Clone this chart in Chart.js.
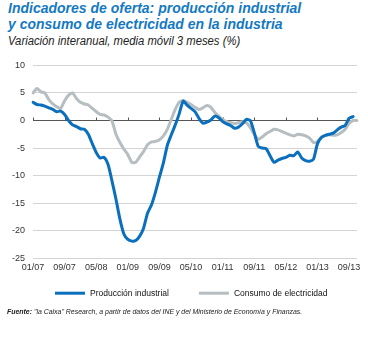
<!DOCTYPE html>
<html lang="es">
<head>
<meta charset="UTF-8">
<title>Indicadores de oferta</title>
<script src="https://cdn.jsdelivr.net/npm/chart.js"></script>
<style>
  html, body { margin: 0; padding: 0; background: #fff; }
  body { width: 368px; height: 338px; position: relative; overflow: hidden; font-family: "Liberation Sans", Arial, sans-serif; }
  .titulo { position: absolute; left: 8px; color: #1479c2; font-weight: bold; font-style: italic; font-size: 14px; line-height: 16px; white-space: nowrap; }
  .t1 { top: 0; }
  .t2 { top: 16px; }
  .subtitulo { position: absolute; left: 8px; top: 34px; color: #222; font-style: italic; font-size: 12px; white-space: nowrap; transform-origin: left top; transform: scaleX(0.94); }
  .fuente { position: absolute; left: 7px; top: 307px; color: #222; font-style: italic; font-size: 8px; white-space: nowrap; transform-origin: left top; transform: scaleX(0.866); }
  .grafico { position: absolute; left: 0; top: 52px; width: 368px; height: 265px; }
</style>
</head>
<body>
<div class="titulo t1">Indicadores de oferta: producción industrial</div>
<div class="titulo t2">y consumo de electricidad en la industria</div>
<div class="subtitulo">Variación interanual, media móvil 3 meses (%)</div>
<div class="grafico"><canvas id="chart"></canvas></div>
<div class="fuente"><b>Fuente:</b> "la Caixa" Research, a partir de datos del INE y del Ministerio de Economía y Finanzas.</div>

<script>
// meses 01/07 .. 11/13
const meses = [];
for (let a = 7; a <= 13; a++) {
  for (let m = 1; m <= 12; m++) {
    if (a === 13 && m > 11) break;
    meses.push(String(m).padStart(2, '0') + '/' + String(a).padStart(2, '0'));
  }
}

// Producción industrial (último dato 10/13)
const produccion = [
  3.3, 2.9, 2.8, 2.6, 2.3, 2.0, 1.6, 1.7, 1.1, 0.0, -0.8, -1.1,
  -1.5, -1.6, -2.5, -4.2, -5.8, -6.8, -6.7, -8.0, -11.0, -14.3, -17.9, -20.6,
  -21.6, -21.9, -21.8, -21.0, -19.5, -16.8, -15.3, -13.0, -10.3, -7.7, -4.5, -2.6,
  -0.8, 1.2, 3.5, 2.8, 2.2, 1.6, 0.4, -0.5, -0.3, 0.1, 0.8, 0.5,
  -0.2, -0.6, -0.9, -1.4, -1.2, -0.6, 0.2, 0.0, -2.2, -4.7, -5.0, -5.1,
  -6.4, -7.6, -7.2, -6.9, -6.7, -6.3, -6.4, -5.7, -6.8, -7.3, -7.4, -7.0,
  -4.2, -3.1, -2.7, -2.5, -2.3, -1.7, -1.2, -0.9, 0.4, 0.7, null
];

// Consumo de electricidad (último dato 11/13)
const electricidad = [
  5.0, 5.8, 5.2, 5.0, 3.8, 3.0, 2.5, 2.2, 3.6, 4.6, 5.0, 4.0,
  3.3, 3.0, 2.8, 2.2, 1.6, 1.1, 1.0, 0.6, -0.1, -2.5, -4.0, -5.2,
  -6.2, -7.6, -7.6, -6.6, -5.6, -4.4, -3.9, -3.8, -3.5, -2.8, -1.6, 0.2,
  2.0, 3.3, 3.65, 3.3, 2.9, 2.4, 2.0, 2.3, 2.7, 2.4, 1.5, 0.8,
  0.2, -0.2, -0.4, -0.55, -0.4, -0.25, -0.4, -1.3, -2.5, -3.4, -3.0, -2.4,
  -2.0, -1.6, -1.7, -2.0, -2.3, -2.6, -2.8, -2.5, -2.6, -2.8, -3.2, -4.0,
  -3.8, -3.0, -2.7, -2.6, -2.7, -2.6, -2.2, -1.6, -0.5, 0.0, 0.0
];

const yTicks = [10, 5, 0, -5, -10, -15, -20, -25];
const cadaN = 8; // etiqueta cada 8 meses

const fuente = "'Liberation Sans', Arial, sans-serif";

// marcas cortas sobre la línea del cero
const marcasCero = {
  id: 'marcasCero',
  beforeDatasetsDraw(chart) {
    const { ctx, scales: { x, y } } = chart;
    const y0 = Math.round(y.getPixelForValue(0)) + 0.5;
    ctx.save();
    ctx.strokeStyle = '#555';
    ctx.lineWidth = 1;
    ctx.beginPath();
    meses.forEach((m, i) => {
      if (i % cadaN !== 0) return;
      const px = Math.round(x.getPixelForValue(i)) + 0.5;
      ctx.moveTo(px, y0);
      ctx.lineTo(px, y0 - 3);
    });
    ctx.stroke();
    ctx.restore();
  }
};

// leyenda en una fila: trazo largo + texto, con hueco amplio entre series
const leyenda = {
  id: 'leyenda',
  afterDraw(chart) {
    const { ctx, chartArea } = chart;
    const largo = 30, sep = 5, hueco = 30;
    ctx.save();
    ctx.font = "8.5px " + fuente;
    ctx.textBaseline = 'middle';
    const items = chart.data.datasets.map(d => ({ d, w: ctx.measureText(d.label).width }));
    const total = items.reduce((s, it) => s + largo + sep + it.w, 0) + hueco * (items.length - 1);
    let x = Math.round(chart.width / 2 - total / 2) + 7;
    const y = chartArea.bottom + 35;
    items.forEach(({ d, w }) => {
      ctx.fillStyle = d.borderColor;
      ctx.fillRect(x, y - 1.5, largo, 3);
      ctx.fillStyle = '#111';
      ctx.fillText(d.label, x + largo + sep, y);
      x += largo + sep + w + hueco;
    });
    ctx.restore();
  }
};

new Chart(document.getElementById('chart'), {
  type: 'line',
  data: {
    labels: meses,
    datasets: [
      {
        label: 'Producción industrial',
        data: produccion,
        borderColor: '#0a70be',
        borderWidth: 3,
        pointRadius: 0,
        tension: 0.2,
        borderCapStyle: 'round',
        borderJoinStyle: 'round',
        order: 1
      },
      {
        label: 'Consumo de electricidad',
        data: electricidad,
        borderColor: '#b6bec2',
        borderWidth: 3,
        pointRadius: 0,
        tension: 0.2,
        borderCapStyle: 'round',
        borderJoinStyle: 'round',
        order: 2
      }
    ]
  },
  options: {
    responsive: true,
    maintainAspectRatio: false,
    animation: false,
    layout: { padding: { top: 8, right: 11, left: 0, bottom: 40 } },
    plugins: {
      tooltip: { enabled: false },
      legend: { display: false }
    },
    scales: {
      x: {
        type: 'category',
        offset: false,
        grid: { display: false, drawTicks: false },
        border: { display: false },
        ticks: {
          autoSkip: false,
          maxRotation: 0,
          padding: 4,
          color: '#333',
          font: { family: fuente, size: 9 },
          callback: (v, i) => (i % cadaN === 0 ? meses[i] : '')
        }
      },
      y: {
        min: -25,
        max: 10,
        afterBuildTicks(scale) { scale.ticks = yTicks.map(v => ({ value: v })); },
        grid: {
          drawTicks: false,
          color: c => (c.tick && c.tick.value === 0 ? '#555' : '#d4d4d4'),
          lineWidth: 1
        },
        border: { display: false },
        ticks: {
          padding: 8,
          color: '#333',
          font: { family: fuente, size: 9 }
        },
        afterFit(scale) { scale.width = 33; }
      }
    }
  },
  plugins: [marcasCero, leyenda]
});
</script>
</body>
</html>
